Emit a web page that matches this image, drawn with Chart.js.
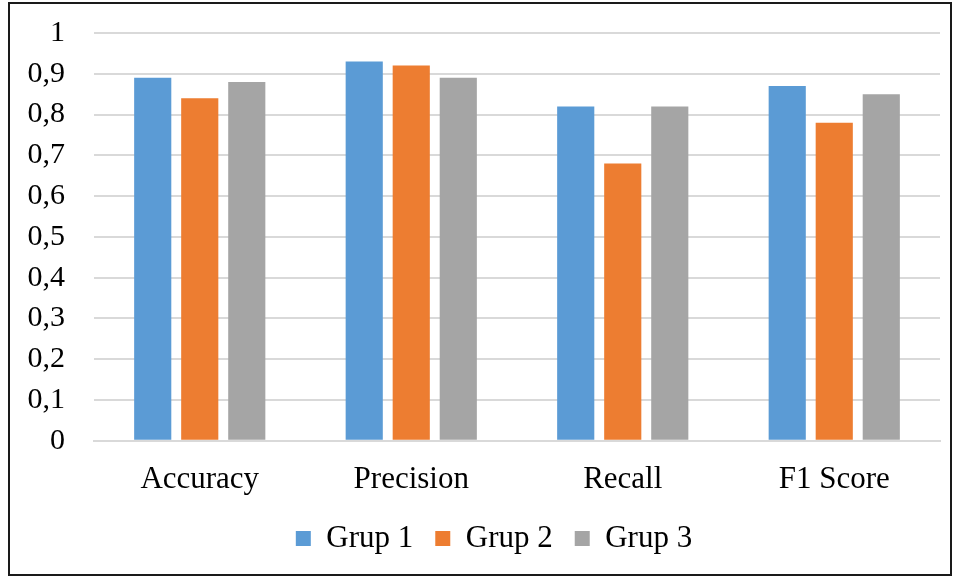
<!DOCTYPE html>
<html>
<head>
<meta charset="utf-8">
<script src="https://cdn.jsdelivr.net/npm/chart.js@4/dist/chart.umd.min.js"></script>
<style>
  html, body { margin: 0; padding: 0; background: #fff; }
  #frame {
    position: absolute; left: 8px; top: 2px;
    width: 940px; height: 570px;
    border: 2px solid #1a1a1a;
  }
  canvas { display: block; }
</style>
</head>
<body>
<div id="frame"><canvas id="chart" width="940" height="570"></canvas></div>
<script>
// metric scores per group
const categories = ['Accuracy', 'Precision', 'Recall', 'F1 Score'];
const grup1 = [0.89, 0.93, 0.82, 0.87];
const grup2 = [0.84, 0.92, 0.68, 0.78];
const grup3 = [0.88, 0.89, 0.82, 0.85];

const serif = '"Liberation Serif", "Times New Roman", serif';

function commaTick(v) {
    if (Math.abs(v) < 1e-9) return '0';
    if (Math.abs(v - 1) < 1e-9) return '1';
    return v.toFixed(1).replace('.', ',');
}

// legend in the original sits a bit right of the canvas centre
const nudgeLegend = {
    id: 'nudgeLegend',
    afterLayout(chart) {
        if (chart.legend) chart.legend.left += 28;
    }
};

new Chart(document.getElementById('chart'), {
    type: 'bar',
    data: {
        labels: categories,
        datasets: [
            { label: 'Grup 1', data: grup1, backgroundColor: '#5B9BD5' },
            { label: 'Grup 2', data: grup2, backgroundColor: '#ED7D31' },
            { label: 'Grup 3', data: grup3, backgroundColor: '#A5A5A5' }
        ]
    },
    plugins: [nudgeLegend],
    options: {
        responsive: false,
        animation: false,
        datasets: {
            bar: { categoryPercentage: 0.667, barPercentage: 0.79 }
        },
        layout: { padding: { left: 10, right: 10, top: 29, bottom: 10 } },
        plugins: {
            tooltip: { enabled: false },
            legend: {
                position: 'bottom',
                labels: {
                    boxWidth: 15, boxHeight: 15, padding: 22,
                    color: '#000',
                    font: { family: serif, size: 31 }
                }
            }
        },
        scales: {
            x: {
                grid: { display: false },
                border: { color: '#d9d9d9', width: 2 },
                ticks: { color: '#000', padding: 12, font: { family: serif, size: 31 } },
                afterFit: (s) => {
                    s.paddingLeft = 0;
                    s.paddingRight = 0;
                    s.height -= 9;
                }
            },
            y: {
                min: 0, max: 1,
                grid: { color: '#d9d9d9', lineWidth: 2, drawTicks: false },
                border: { display: false },
                ticks: {
                    stepSize: 0.1, padding: 29, color: '#000', autoSkip: false,
                    font: { family: serif, size: 30 },
                    callback: commaTick
                },
                afterFit: (s) => {
                    s.width = 74;
                    s.paddingTop = 0;
                    s.paddingBottom = 0;
                }
            }
        }
    }
});
</script>
</body>
</html>
